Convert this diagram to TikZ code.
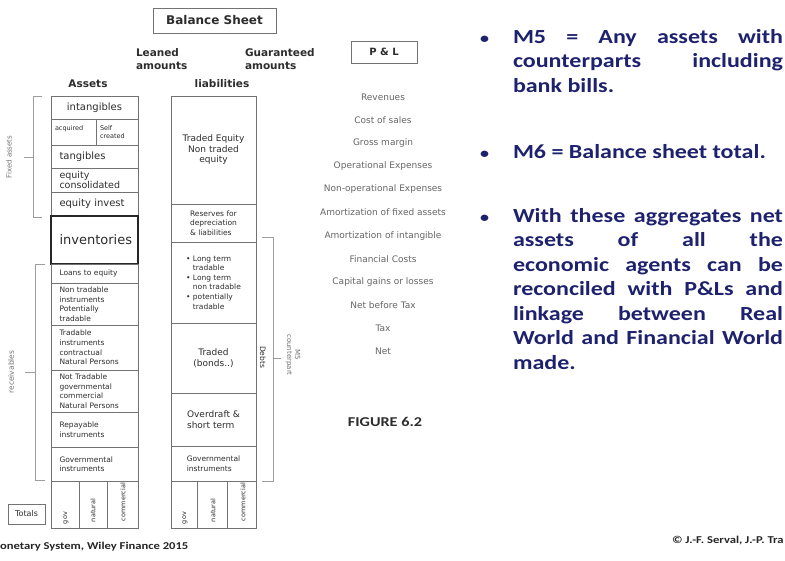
\documentclass[tikz,border=0pt]{standalone}
\usepackage{fontspec}
\setmainfont{DejaVu Sans}
\newfontfamily\calibri[FakeStretch=1.2]{Carlito}
\usetikzlibrary{positioning}

\definecolor{slideblue}{RGB}{30,34,110}
\definecolor{framegray}{RGB}{115,115,115}
\definecolor{inkgray}{RGB}{45,45,45}

\newcommand{\fsz}[2]{\fontsize{#1}{#2}\selectfont}
% bullet line with a hanging second line
\newcommand{\bul}[2]{\textbullet\ #1\\\hphantom{\textbullet\ }#2}
% bullet hung left of a point
\newcommand{\pointmark}{\llap{{\fsz{15}{15}\textbullet}\hspace{24pt}}}

\begin{document}
\begin{tikzpicture}[x=1pt, y=-1pt,
  every node/.style={inner sep=0pt, outer sep=0pt},
  cell/.style={draw=framegray, line width=0.8pt, text=inkgray},
  acell/.style={cell, minimum width=87pt, minimum height=#1, text width=70pt,
    align=left, font=\fsz{7.5}{9.6}},
  lcell/.style={cell, minimum width=85pt, minimum height=#1, align=left,
    font=\fsz{7.5}{9.6}},
  subcell/.style={cell, minimum height=47pt},
  tiny/.style={rotate=90, anchor=west, font=\fsz{6.5}{7}, text=inkgray},
  head/.style={font=\bfseries\fsz{10.5}{12.5}, text=inkgray},
  plitem/.style={font=\fsz{9}{11}, text=black!60},
  bracketline/.style={draw=framegray!70, line width=0.7pt},
  sidelabel/.style={font=\fsz{7}{8}, text=black!55},
  bullettext/.style={anchor=base west, text width=270pt, align=justify,
    font=\calibri\bfseries\fsz{20}{24.5}, text=slideblue}]

\fill[white] (0,0) rectangle (785,560);
\useasboundingbox (0,0) rectangle (785,560);

% titles
\node[draw=framegray, line width=1pt, minimum width=123pt, minimum height=25pt,
  font=\bfseries\fsz{12}{14}, text=inkgray] (bsheet) at (214.5,20.5) {Balance Sheet};
\node[head, align=left, anchor=west] (leaned) at (136,59) {Leaned\\amounts};
\node[head, align=left, anchor=west] (guar) at (245,59) {Guaranteed\\amounts};
\node[draw=framegray, line width=1pt, minimum width=66pt, minimum height=22pt,
  font=\bfseries\fsz{10}{12}, text=inkgray] (pnl) at (384,52) {P \& L};
\node[head] (assets) at (88,84) {Assets};
\node[head] (liab) at (222,84) {liabilities};

% assets column
\node[acell=23pt, anchor=north west, align=center, font=\fsz{10}{12}] (intang) at (51,96) {intangibles};
\node[cell, minimum width=45pt, minimum height=26pt, text width=37pt, align=left,
  font=\fsz{6.5}{7.5}, anchor=north west] (acq) at (intang.south west) {acquired\\\mbox{}};
\node[cell, minimum width=42pt, minimum height=26pt, text width=34pt, align=left,
  font=\fsz{6.5}{7.5}, anchor=north west] (selfc) at (acq.north east) {Self\\created};
\node[acell=23pt, anchor=north west, font=\fsz{10}{12}] (tang) at (acq.south west) {tangibles};
\node[acell=24pt, below=0pt of tang, font=\fsz{9.5}{10}] (eqcons) {equity\\consolidated};
\node[acell=24pt, below=0pt of eqcons, font=\fsz{10}{12}] (eqinv) {equity invest};
\node[acell=48pt, below=0pt of eqinv, draw=black!85, line width=2pt, align=center,
  font=\fsz{13}{15}] (invent) {inventories};
\node[acell=19pt, below=0pt of invent] (loans) {Loans to equity};
\node[acell=42pt, below=0pt of loans] (nontrad) {Non tradable\\instruments\\Potentially\\tradable};
\node[acell=45pt, below=0pt of nontrad] (trad) {Tradable\\instruments\\contractual\\Natural Persons};
\node[acell=42pt, below=0pt of trad] (nottrad) {Not Tradable\\governmental\\commercial\\Natural Persons};
\node[acell=35pt, below=0pt of nottrad] (repay) {Repayable\\instruments};
\node[acell=34pt, below=0pt of repay] (gova) {Governmental\\instruments};
\node[subcell, minimum width=28pt, anchor=north west] (agov) at (gova.south west) {};
\node[subcell, minimum width=28pt, right=0pt of agov] (anat) {};
\node[subcell, minimum width=31pt, right=0pt of anat] (acom) {};
\node[tiny] (agovt) at (66,524) {gov};
\node[tiny] (anatt) at (93,522) {natural};
\node[tiny] (acomt) at (123,521) {commercial};

% liabilities column
\node[lcell=108pt, anchor=north west, align=center, font=\fsz{9}{10.5}] (teq) at (171,96)
  {Traded Equity\\Non traded\\equity};
\node[lcell=38pt, below=0pt of teq] (resv) {Reserves for\\depreciation\\\& liabilities};
\node[lcell=81pt, below=0pt of resv] (longt)
  {\bul{Long term}{tradable}\\\bul{Long term}{non tradable}\\\bul{potentially}{tradable}};
\node[lcell=70pt, below=0pt of longt, align=center, font=\fsz{9}{11}] (bonds) {Traded\\(bonds..)};
\node[lcell=53pt, below=0pt of bonds, font=\fsz{9}{11}] (ovd) {Overdraft \&\\short term};
\node[lcell=35pt, below=0pt of ovd] (govl) {Governmental\\instruments};
\node[subcell, minimum width=26pt, anchor=north west] (lgov) at (govl.south west) {};
\node[subcell, minimum width=30pt, right=0pt of lgov] (lnat) {};
\node[subcell, minimum width=29pt, right=0pt of lnat] (lcom) {};
\node[tiny] (lgovt) at (185,524) {gov};
\node[tiny] (lnatt) at (213,522) {natural};
\node[tiny] (lcomt) at (243,521) {commercial};

% totals
\node[cell, minimum width=37pt, minimum height=20pt, anchor=south east,
  font=\fsz{8}{10}] (totals) at (45,524) {Totals};

% brackets
\draw[bracketline] (42,96) -- (33,96) -- (33,217) -- (42,217);
\draw[bracketline] (33,157) -- (24,157);
\draw[bracketline] (45,264) -- (35,264) -- (35,480) -- (45,480);
\draw[bracketline] (35,372) -- (25,372);
\draw[bracketline] (262,237) -- (273,237) -- (273,481) -- (262,481);
\draw[bracketline] (273,358) -- (281,358);
\node[sidelabel, rotate=90] (fixed) at (9,157) {Fixed assets};
\node[sidelabel, rotate=90, font=\fsz{7.5}{9}] (recv) at (11,372) {receivables};
\node[sidelabel, rotate=-90, font=\fsz{7.5}{9}, text=inkgray] (debts) at (263,357) {Debts};
\node[sidelabel, rotate=-90, align=center] (mfive) at (293,355) {M5\\counterpart};

% profit and loss items
\foreach \line [count=\i] in {Revenues, Cost of sales, Gross margin, Operational Expenses,
    Non-operational Expenses, Amortization of fixed assets, Amortization of intangible,
    Financial Costs, Capital gains or losses, Net before Tax, Tax, Net}
  \node[plitem] (pl\i) at (383,{74+23.1*\i}) {\line};

\node[font=\calibri\bfseries\fsz{13.5}{15}, text=inkgray] (fig) at (385,422) {FIGURE 6.2};

% bullet points
\node[bullettext] (mfivetxt) at (513,43)
  {\pointmark M5 = Any assets with\linebreak
   counterparts including\linebreak bank bills.};
\node[bullettext] (msixtxt) at (513,158)
  {\pointmark M6 = Balance sheet total.};
\node[bullettext] (aggtxt) at (513,222)
  {\pointmark With these aggregates net\linebreak
   assets of all the\linebreak economic agents can be\linebreak
   reconciled with P\&Ls and\linebreak linkage between Real\linebreak
   World and Financial World\linebreak made.};

% footers
\node[anchor=west, font=\calibri\bfseries\fsz{10.5}{12}, text=black!85] (src) at (0,547)
  {onetary System, Wiley Finance 2015};
\node[anchor=west, font=\calibri\bfseries\fsz{10.5}{12}, text=black!85] (copy) at (672,541)
  {\copyright\ J.-F. Serval, J.-P. Tra};
\end{tikzpicture}
\end{document}
